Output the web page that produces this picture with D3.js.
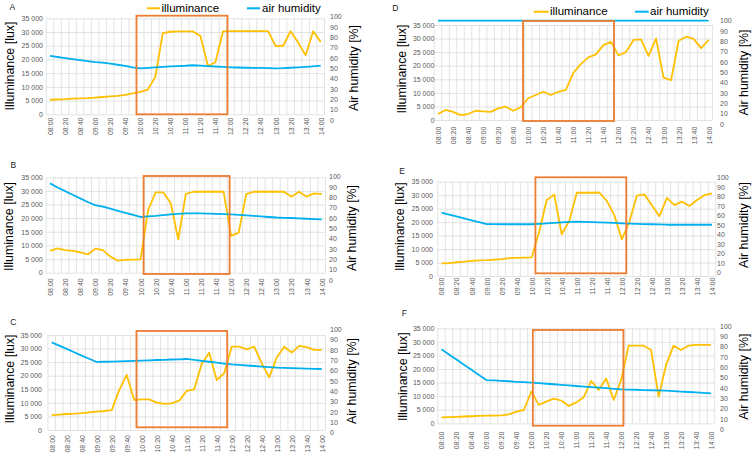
<!DOCTYPE html>
<html>
<head>
<meta charset="utf-8">
<script src="https://cdn.jsdelivr.net/npm/d3@7"></script>
<style>
  body { margin: 0; background: #fff; }
  svg { display: block; }
  text { font-family: "Liberation Sans", Arial, sans-serif; }
</style>
</head>
<body>
<div id="chart"></div>
<script>
// Categories: 10-minute readings from 08:00 to 14:00
const times = ['08:00','08:10','08:20','08:30','08:40','08:50','09:00','09:10','09:20','09:30','09:40','09:50',
  '10:00','10:10','10:20','10:30','10:40','10:50','11:00','11:10','11:20','11:30','11:40','11:50',
  '12:00','12:10','12:20','12:30','12:40','12:50','13:00','13:10','13:20','13:30','13:40','13:50','14:00'];
const timeTicks = ['08:00','08:20','08:40','09:00','09:20','09:40','10:00','10:20','10:40','11:00','11:20','11:40',
  '12:00','12:20','12:40','13:00','13:20','13:40','14:00'];
const luxTicks = [0, 5000, 10000, 15000, 20000, 25000, 30000, 35000];
const humTicks = [0, 10, 20, 30, 40, 50, 60, 70, 80, 90, 100];

// Illuminance [lux]
const luxA = [5300,5400,5500,5700,5800,5900,6100,6300,6500,6700,7100,7600,8200,9000,13600,29600,30100,30200,30200,30200,
  28600,17600,19000,30200,30300,30300,30300,30300,30300,30300,24900,25000,30300,26200,21500,30300,26400];
const luxB = [8000,8900,8300,8000,7500,6700,8800,8300,5900,4400,4700,4800,4900,23000,29500,29500,25500,12200,28900,29700,
  29700,29700,29700,29700,13500,14700,28800,29700,29700,29700,29700,29700,27900,29700,27900,29100,28800];
const luxC = [5500,5700,5900,6000,6200,6500,6800,7000,7300,14700,20300,11100,11300,11300,10100,9600,9800,10800,14400,15000,
  24300,28500,18400,20900,30700,30700,29700,30700,24600,19400,26700,30700,28500,31000,30500,29500,29500];
const luxD = [2200,3700,3000,1800,2200,3400,3200,3000,4300,4900,3400,4700,8000,9200,10400,9200,10400,11100,17400,20600,
  23100,24200,27600,28800,23800,25000,29500,29700,23600,30000,15600,14700,29200,30700,29900,26500,29500];
const luxE = [4700,4800,5100,5300,5600,5800,5900,6100,6300,6600,6700,6800,6900,16400,28200,30200,15500,20400,30900,30900,
  30900,31000,27900,22600,13600,20100,29800,30300,26300,22200,29000,26300,27600,26000,28200,30000,30700];
const luxF = [2200,2300,2400,2500,2600,2700,2800,2800,2900,3300,4300,4900,11700,6800,8000,9100,8400,6400,7700,9600,
  15600,12300,16500,8600,16000,28600,28600,28600,27000,9800,21500,28600,27000,28600,28900,28900,28900];

// Air humidity [%]
const humA = [62,61,60,59,58,57,56,55.5,54.5,53.5,52.5,51,50,50.5,51,51.5,52,52.2,52.5,53,52.6,52.2,51.8,51.4,51,
  50.8,50.6,50.5,50.4,50.3,50,50.2,50.6,51,51.5,52,52.6];
const humB = [93.5,89.5,86,82.5,79,75.5,72.5,71,69,67,65,63,61,61.5,62,62.8,63.5,64,64.5,64.5,64.4,64.2,64,63.8,63.5,
  63,62.5,62,61.5,61,60.5,60.2,60,59.7,59.3,59,58.7];
const humC = [87.4,84.2,81,77.8,74.6,71.5,68.4,68.6,68.8,69,69.3,69.5,69.8,70,70.3,70.5,70.8,71,71.3,70.4,69.5,68.6,
  67.7,66.8,66,65.5,65,64.5,64,63.4,62.9,62.7,62.5,62.2,62,61.8,61.6];
const humD = [100,100,100,100,100,100,100,100,100,100,100,100,100,100,100,100,100,100,100,100,100,100,100,100,100,
  100,100,100,100,100,100,100,100,100,100,100,100];
const humE = [63.2,61.2,59.2,57.2,55.2,53.2,51.2,51.1,51,51,51,51,51,51.5,52,52.5,53,53.4,53.7,53.5,53.2,53,52.7,52.4,
  52,51.7,51.5,51.2,51,50.8,50.5,50.5,50.5,50.5,50.5,50.5,50.5];
const humF = [77.4,72.5,67.5,62.5,57.6,52.6,47.7,47.3,46.9,46.5,46,45.6,45.2,44.6,44.1,43.6,43,42.5,41.9,41.4,40.8,40.3,
  39.8,39.2,38.7,38.5,38.3,38,37.8,37.6,37.4,37,36.5,36.1,35.7,35.2,34.8];

// Highlighted interval (in category index units)
const boxA = [11.5, 23.6];
const boxB = [12.4, 23.8];
const boxC = [11.3, 23.4];
const boxD = [11.3, 23.4];
const boxE = [12.5, 24.6];
const boxF = [12.2, 24.3];

const YELLOW = '#FFC000';
const BLUE = '#00B0F0';
const ORANGE = '#ED7D31';

// Panel layout (pixel positions)
const panels = [
  { id: 'A', lux: luxA, hum: humA, box: boxA, x0: 50, x1: 320.7, yL0: 114.3, yL1: 18.3, yR0: 120, yR1: 16.7,
    lx: 43, rx: 330, catTop: 117.5, letter: [12.3, 6.7], tL: [14, 66], tR: [357.5, 68], boxY: [15.7, 114.3],
    legend: { y: 8.3, base: 12.3, items: [[147, 160, 161.5], [247, 260, 262]] } },
  { id: 'B', lux: luxB, hum: humB, box: boxB, x0: 50, x1: 321.7, yL0: 272.7, yL1: 177.3, yR0: 280, yR1: 176.7,
    lx: 42.7, rx: 329, catTop: 278.3, letter: [13.3, 165], tL: [12.5, 226.5], tR: [356, 228], boxY: [176, 274] },
  { id: 'C', lux: luxC, hum: humC, box: boxC, x0: 51.7, x1: 321.7, yL0: 430, yL1: 335, yR0: 432.7, yR1: 329.3,
    lx: 42, rx: 330, catTop: 435, letter: [13.3, 321.7], tL: [14, 379], tR: [356, 381], boxY: [331, 427.3] },
  { id: 'D', lux: luxD, hum: humD, box: boxD, x0: 438, x1: 708.7, yL0: 120, yL1: 25, yR0: 124, yR1: 20.7,
    lx: 434.3, rx: 720, catTop: 126.7, letter: [395.3, 8.3], tL: [405.5, 69], tR: [747.5, 72.5], boxY: [21, 121],
    legend: { y: 11.7, base: 15, items: [[533.7, 548.7, 550], [635, 648.7, 650]] } },
  { id: 'E', lux: luxE, hum: humE, box: boxE, x0: 441.5, x1: 712, yL0: 276, yL1: 181.7, yR0: 272.7, yR1: 177.7,
    lx: 433, rx: 717, catTop: 277.7, letter: [402, 170.7], tL: [404, 226.7], tR: [748, 225], boxY: [177.3, 273.3] },
  { id: 'F', lux: luxF, hum: humF, box: boxF, x0: 441.5, x1: 711, yL0: 423.3, yL1: 328.3, yR0: 429.3, yR1: 326,
    lx: 434.3, rx: 720, catTop: 431.7, letter: [404.3, 313.3], tL: [406.5, 376.7], tR: [747.5, 376.7], boxY: [330, 425.7] }
];

const fmt = d3.formatLocale({ decimal: '.', thousands: ' ', grouping: [3], currency: ['', ''] }).format(',');

const svg = d3.select('#chart')
  .append('svg')
  .attr('width', 754)
  .attr('height', 460)
  .style('background', '#fff');

panels.forEach(p => {
  const x = d3.scalePoint().domain(times).range([p.x0, p.x1]);
  const xi = d3.scaleLinear().domain([0, times.length - 1]).range([p.x0, p.x1]);
  const step = x.step();
  const yL = d3.scaleLinear().domain([0, 35000]).range([p.yL0, p.yL1]);
  const yR = d3.scaleLinear().domain([0, 100]).range([p.yR0, p.yR1]);
  const left = p.x0 - step / 2;
  const right = p.x1 + step / 2;

  const g = svg.append('g');

  // Vertical gridlines at category boundaries
  g.append('g')
    .selectAll('line')
    .data(d3.range(times.length + 1))
    .join('line')
    .attr('x1', i => xi(i - 0.5))
    .attr('x2', i => xi(i - 0.5))
    .attr('y1', yL(35000))
    .attr('y2', yL(0))
    .attr('stroke', '#dcdcdc')
    .attr('stroke-width', 0.8);

  // Horizontal gridlines
  g.append('g')
    .attr('transform', `translate(${left},0)`)
    .call(d3.axisLeft(yL).tickValues(luxTicks).tickSize(-(right - left)).tickFormat(''))
    .call(a => a.select('.domain').remove())
    .selectAll('line')
    .attr('stroke', '#dcdcdc')
    .attr('stroke-width', 0.8);

  // Left axis labels
  g.append('g')
    .attr('transform', `translate(${p.lx},0)`)
    .call(d3.axisLeft(yL).tickValues(luxTicks).tickSize(0).tickPadding(0).tickFormat(fmt))
    .call(a => a.select('.domain').remove())
    .selectAll('text')
    .style('font-size', '7px')
    .style('font-family', '"Liberation Sans", Arial, sans-serif')
    .attr('fill', '#595959');

  // Right axis labels
  g.append('g')
    .attr('transform', `translate(${p.rx},0)`)
    .call(d3.axisRight(yR).tickValues(humTicks).tickSize(0).tickPadding(0))
    .call(a => a.select('.domain').remove())
    .selectAll('text')
    .style('font-size', '7px')
    .style('font-family', '"Liberation Sans", Arial, sans-serif')
    .attr('fill', '#595959');

  // Category labels, rotated
  g.append('g')
    .attr('transform', `translate(0,${p.catTop})`)
    .call(d3.axisBottom(x).tickValues(timeTicks).tickSize(0).tickPadding(0))
    .call(a => a.select('.domain').remove())
    .selectAll('text')
    .attr('x', 0)
    .attr('y', 0)
    .attr('dy', '0.35em')
    .attr('transform', 'rotate(-90)')
    .style('text-anchor', 'end')
    .style('font-size', '7px')
    .style('font-family', '"Liberation Sans", Arial, sans-serif')
    .attr('fill', '#595959');

  // Illuminance line
  g.append('path')
    .datum(p.lux)
    .attr('fill', 'none')
    .attr('stroke', YELLOW)
    .attr('stroke-width', 1.8)
    .attr('stroke-linejoin', 'round')
    .attr('d', d3.line().x((d, i) => x(times[i])).y(d => yL(d)));

  // Humidity line
  g.append('path')
    .datum(p.hum)
    .attr('fill', 'none')
    .attr('stroke', BLUE)
    .attr('stroke-width', 1.8)
    .attr('stroke-linejoin', 'round')
    .attr('d', d3.line().x((d, i) => x(times[i])).y(d => yR(d)));

  // Highlight box
  g.append('rect')
    .attr('x', xi(p.box[0]))
    .attr('y', p.boxY[0])
    .attr('width', xi(p.box[1]) - xi(p.box[0]))
    .attr('height', p.boxY[1] - p.boxY[0])
    .attr('fill', 'none')
    .attr('stroke', ORANGE)
    .attr('stroke-width', 1.8);

  // Axis titles
  g.append('text')
    .attr('transform', `translate(${p.tL[0]},${p.tL[1]}) rotate(-90)`)
    .attr('text-anchor', 'middle')
    .style('font-size', '12.4px')
    .attr('fill', '#000')
    .text('Illuminance [lux]');

  g.append('text')
    .attr('transform', `translate(${p.tR[0]},${p.tR[1]}) rotate(-90)`)
    .attr('text-anchor', 'middle')
    .style('font-size', '12.4px')
    .attr('fill', '#000')
    .text('Air humidity [%]');

  // Panel letter
  g.append('text')
    .attr('x', p.letter[0])
    .attr('y', p.letter[1])
    .attr('dy', '0.35em')
    .attr('text-anchor', 'middle')
    .style('font-size', '8.5px')
    .attr('fill', '#222')
    .text(p.id);

  // Legend
  if (p.legend) {
    const names = ['illuminance', 'air humidity'];
    const colors = [YELLOW, BLUE];
    p.legend.items.forEach((it, k) => {
      g.append('line')
        .attr('x1', it[0]).attr('x2', it[1])
        .attr('y1', p.legend.y).attr('y2', p.legend.y)
        .attr('stroke', colors[k])
        .attr('stroke-width', 2);
      g.append('text')
        .attr('x', it[2])
        .attr('y', p.legend.base)
        .style('font-size', '11.5px')
        .attr('fill', '#000')
        .text(names[k]);
    });
  }
});
</script>
</body>
</html>
